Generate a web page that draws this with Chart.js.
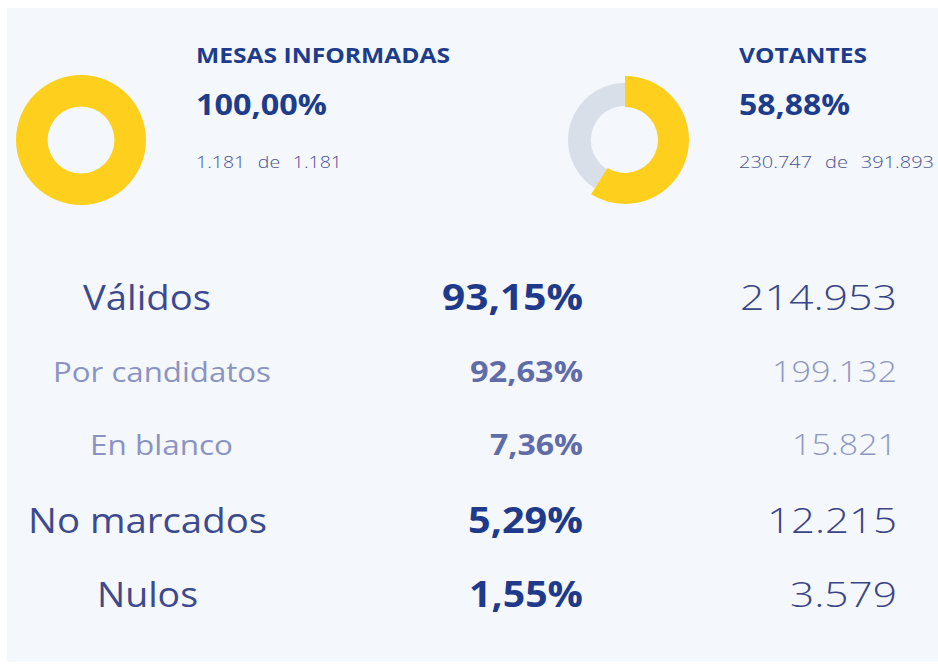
<!DOCTYPE html>
<html><head><meta charset="utf-8">
<script src="https://cdn.jsdelivr.net/npm/chart.js@4.4.1/dist/chart.umd.min.js"></script>
<style>
html,body{margin:0;padding:0;background:#ffffff;width:938px;height:666px;overflow:hidden;font-family:'Open Sans',sans-serif;}
#panel{position:absolute;left:7px;top:8px;width:931px;height:654px;background:#f4f7fc;}
.t{position:absolute;white-space:pre;line-height:1;}
canvas.d{position:absolute;}
</style></head><body>
<div id="panel"></div>
<canvas class="d" id="c1" width="140" height="140" style="left:11px;top:70px"></canvas>
<canvas class="d" id="c2" width="140" height="140" style="left:555px;top:70px"></canvas>
<canvas class="d" id="c3" width="140" height="140" style="left:555px;top:70px"></canvas>
<script>
// ---- data ----
const mesasTitle = 'MESAS INFORMADAS';
const mesasPct = 100.00;
const mesasInformadas = 1181;
const mesasTotal = 1181;

const votantesTitle = 'VOTANTES';
const votantesPct = 58.88;
const votantes = 230747;
const electores = 391893;

const rowLabels = ['Válidos', 'Por candidatos', 'En blanco', 'No marcados', 'Nulos'];
const rowPct = [93.15, 92.63, 7.36, 5.29, 1.55];
const rowVotes = [214953, 199132, 15821, 12215, 3579];
const rowIsSub = [false, true, true, false, false];

// ---- formatting ----
function fmtInt(n){ return String(n).replace(/\B(?=(\d{3})+(?!\d))/g, '.'); }
function fmtPct(p){ return p.toFixed(2).replace('.', ',') + '%'; }

// ---- colours ----
const YELLOW = '#fed01d';
const GRAY = '#d9dfe9';

// ---- doughnuts ----
const common = {
  responsive:false, animation:false, events:[],
  plugins:{legend:{display:false}, tooltip:{enabled:false}},
  layout:{padding:0}
};
new Chart(document.getElementById('c1'), {
  type:'doughnut',
  data:{datasets:[{data:[mesasInformadas, mesasTotal - mesasInformadas], backgroundColor:[YELLOW, GRAY], borderWidth:0}]},
  options:Object.assign({}, common, {radius:65, cutout:36})
});
new Chart(document.getElementById('c2'), {
  type:'doughnut',
  data:{datasets:[{data:[electores], backgroundColor:[GRAY], borderWidth:0}]},
  options:Object.assign({}, common, {radius:57, cutout:42})
});
new Chart(document.getElementById('c3'), {
  type:'doughnut',
  data:{datasets:[{data:[votantes, electores - votantes], backgroundColor:[YELLOW, 'rgba(0,0,0,0)'], borderWidth:0}]},
  options:Object.assign({}, common, {radius:64, cutout:36})
});

// ---- text ----
function place(spec){
  const d = document.createElement('div'); d.className = 't';
  d.style.fontSize = spec.size + 'px';
  d.style.fontWeight = spec.weight;
  d.style.color = spec.color;
  if (spec.ws) d.style.wordSpacing = spec.ws + 'px';
  const s = document.createElement('span'); s.textContent = spec.text;
  const strut = document.createElement('span');
  strut.style.cssText = 'display:inline-block;width:0;height:0;vertical-align:baseline';
  d.appendChild(s); d.appendChild(strut);
  d.style.left = '0px'; d.style.top = '0px';
  document.body.appendChild(d);
  const w = s.getBoundingClientRect().width;
  const base = strut.getBoundingClientRect().top;
  const k = spec.width / w;
  d.style.transformOrigin = '0 0';
  d.style.transform = 'scaleX(' + k + ')';
  d.style.left = spec.x + 'px';
  d.style.top = (spec.baseline - base) + 'px';
}

const NAVY = '#1d3c8c';
const specs = [
  {text:mesasTitle, x:196, baseline:63, size:21, weight:700, color:NAVY, width:254},
  {text:fmtPct(mesasPct), x:196, baseline:115, size:29, weight:700, color:NAVY, width:131},
  {text:fmtInt(mesasInformadas) + ' de ' + fmtInt(mesasTotal), x:196, baseline:168, size:15.5, weight:300, color:'#4b5190', width:146, ws:6},
  {text:votantesTitle, x:739, baseline:63, size:21, weight:700, color:NAVY, width:128},
  {text:fmtPct(votantesPct), x:739, baseline:115, size:29, weight:700, color:NAVY, width:111},
  {text:fmtInt(votantes) + ' de ' + fmtInt(electores), x:739, baseline:168, size:15.5, weight:300, color:'#4b5190', width:195, ws:6}
];

// row layout (positions only)
const rowBase = [310, 382, 455, 533, 607];
const labelBox = [[83,128],[53,218],[90,143],[28,239],[97,101]];
const pctW = [141,113,93,115,114];
const voteW = [157,125,105,130,107];
const PCT_RIGHT = 583, VOTE_RIGHT = 897;

rowLabels.forEach((lab, i) => {
  const sub = rowIsSub[i];
  specs.push({text:lab, x:labelBox[i][0], baseline:rowBase[i], size:sub?28:35, weight:400,
    color:sub?'#8b93c0':'#3d4a8e', width:labelBox[i][1]});
  specs.push({text:fmtPct(rowPct[i]), x:PCT_RIGHT - pctW[i], baseline:rowBase[i], size:sub?29:35, weight:700,
    color:sub?'#5f6ca8':'#1f3a8a', width:pctW[i]});
  specs.push({text:fmtInt(rowVotes[i]), x:VOTE_RIGHT - voteW[i], baseline:rowBase[i], size:sub?29:35, weight:300,
    color:sub?'#9097be':'#3a4586', width:voteW[i]});
});
specs.forEach(place);
</script>
</body></html>
